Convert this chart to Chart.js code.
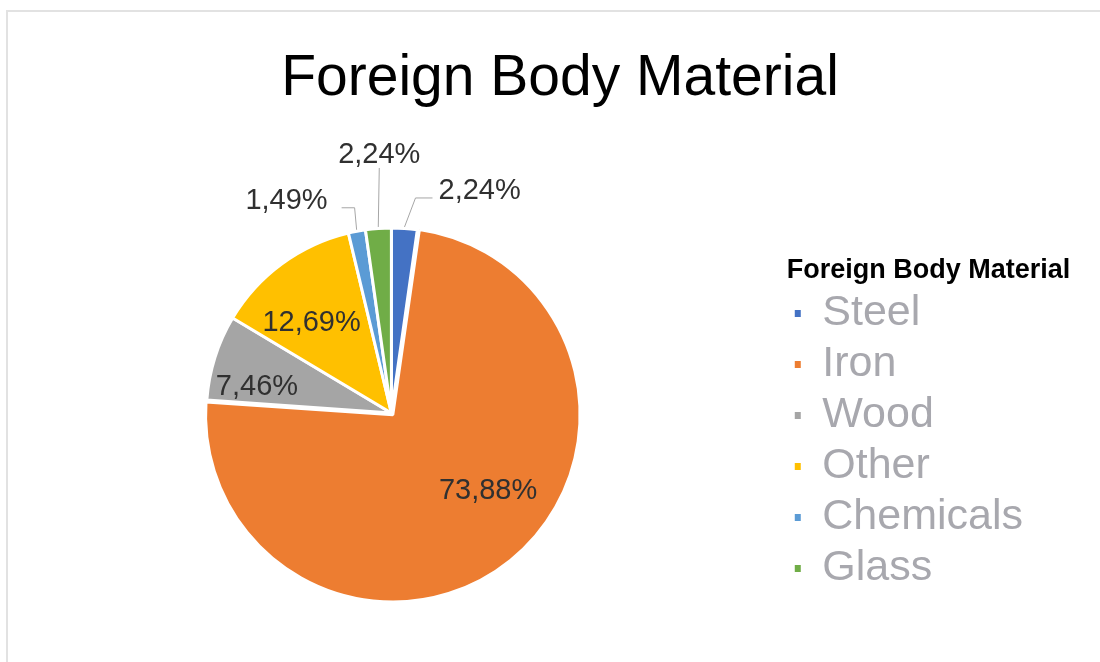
<!DOCTYPE html>
<html>
<head>
<meta charset="utf-8">
<script src="https://cdn.jsdelivr.net/npm/chart.js@4.4.1/dist/chart.umd.min.js"></script>
<style>
  html, body { margin: 0; padding: 0; background: #fff; overflow: hidden; width: 1100px; height: 662px; }
  #frame { position: absolute; left: 6px; top: 10px; width: 1200px; height: 800px;
           border-top: 2px solid #e2e2e2; border-left: 2px solid #e2e2e2; }
  #chart { position: absolute; left: -4px; top: 0; }
</style>
</head>
<body>
<div id="frame"></div>
<canvas id="chart" width="1128" height="662"></canvas>
<script>
const materials = ['Steel', 'Iron', 'Wood', 'Other', 'Chemicals', 'Glass'];
const shares = [2.24, 73.88, 7.46, 12.69, 1.49, 2.24];
const sliceColors = ['#4472c4', '#ed7d31', '#a5a5a5', '#ffc000', '#5b9bd5', '#70ad47'];

// where each percentage goes: inside (radius fraction + angle shift) or outside with a leader
const labelPlace = [
    { leader: [11, -29, 17], text: [6, -7], align: 'left' },
    { r: 0.625, shift: -13 },
    { r: 0.74, shift: -6.5 },
    { r: 0.65, shift: -5.3 },
    { leader: [-2, -22, -13], text: [-14, -7], align: 'right' },
    { leader: [1, -59, 0], text: [0, -13], align: 'center' }
];

const FONT = '"Liberation Sans", Arial, sans-serif';

const sliceLabels = {
    id: 'sliceLabels',
    afterDatasetsDraw(chart) {
        const ctx = chart.ctx;
        const arcs = chart.getDatasetMeta(0).data;
        ctx.save();
        ctx.font = '29px ' + FONT;
        ctx.fillStyle = '#303030';
        ctx.strokeStyle = '#a6a6a6';
        ctx.lineWidth = 1;
        ctx.textBaseline = 'middle';
        arcs.forEach((arc, i) => {
            const { x, y, startAngle, endAngle, outerRadius } =
                arc.getProps(['x', 'y', 'startAngle', 'endAngle', 'outerRadius'], true);
            const mid = (startAngle + endAngle) / 2;
            const off = arc.options.offset || 0;
            const cx = x + Math.cos(mid) * off;
            const cy = y + Math.sin(mid) * off;
            const text = shares[i].toFixed(2).replace('.', ',') + '%';
            const place = labelPlace[i];
            if (!place.leader) {
                const a = mid + place.shift * Math.PI / 180;
                const r = outerRadius * place.r;
                ctx.textAlign = 'center';
                ctx.fillText(text, cx + Math.cos(a) * r, cy + Math.sin(a) * r);
                return;
            }
            const px = cx + Math.cos(mid) * (outerRadius + 1.5);
            const py = cy + Math.sin(mid) * (outerRadius + 1.5);
            const ex = px + place.leader[0];
            const ey = py + place.leader[1];
            const fx = ex + place.leader[2];
            ctx.beginPath();
            ctx.moveTo(px, py);
            ctx.lineTo(ex, ey);
            ctx.lineTo(fx, ey);
            ctx.stroke();
            ctx.textAlign = place.align;
            ctx.fillText(text, fx + place.text[0], ey + place.text[1]);
        });
        ctx.restore();
    }
};

// the legend title is wider than the items; let the legend box reach the canvas edge so it isn't clipped
const legendRoom = {
    id: 'legendRoom',
    afterLayout(chart) {
        if (chart.legend) {
            chart.legend.right = chart.width;
        }
    }
};

new Chart(document.getElementById('chart'), {
    type: 'pie',
    data: {
        labels: materials,
        datasets: [{
            data: shares,
            backgroundColor: sliceColors,
            borderColor: '#ffffff',
            borderWidth: 3,
            offset: [0, 9, 0, 0, 0, 0]
        }]
    },
    options: {
        responsive: false,
        animation: false,
        events: [],
        layout: { padding: { left: 0, right: 0, top: 0, bottom: 58 } },
        plugins: {
            title: {
                display: true,
                text: 'Foreign Body Material',
                color: '#000000',
                font: { family: FONT, size: 57, weight: 'normal' },
                padding: { top: 45, bottom: 108.6 }
            },
            subtitle: {
                display: true,
                text: '',
                position: 'right',
                fullSize: false,
                font: { size: 10 },
                padding: { top: 39, bottom: 40 }
            },
            legend: {
                position: 'right',
                fullSize: false,
                align: 'start',
                title: {
                    display: true,
                    text: 'Foreign Body Material',
                    color: '#000000',
                    position: 'start',
                    font: { family: FONT, size: 27, weight: 'bold', lineHeight: 1 },
                    padding: { top: 35, bottom: 0 }
                },
                labels: {
                    color: '#a8a8ae',
                    font: { family: FONT, size: 43 },
                    boxWidth: 6,
                    boxHeight: 7,
                    padding: 8,
                    generateLabels(chart) {
                        const items = Chart.overrides.doughnut.plugins.legend.labels.generateLabels(chart);
                        return items.map(item => Object.assign(item, { lineWidth: 0 }));
                    }
                }
            },
            tooltip: { enabled: false }
        }
    },
    plugins: [sliceLabels, legendRoom]
});
</script>
</body>
</html>
